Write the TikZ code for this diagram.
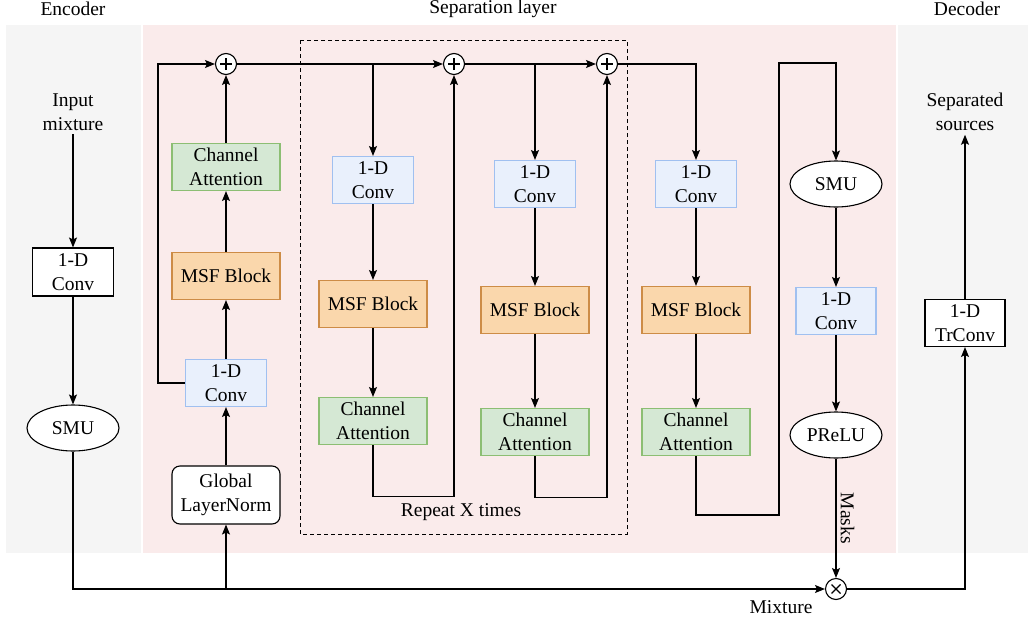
\documentclass[tikz,border=0pt]{standalone}
\usepackage{fontspec}
\setmainfont{Liberation Serif}
\usetikzlibrary{arrows.meta,shapes.geometric}

\definecolor{encgray}{RGB}{245,245,245}
\definecolor{seppink}{RGB}{250,235,235}
\definecolor{convfill}{RGB}{233,240,252}
\definecolor{convline}{RGB}{160,192,240}
\definecolor{msffill}{RGB}{250,215,172}
\definecolor{msfline}{RGB}{205,140,70}
\definecolor{cafill}{RGB}{213,232,212}
\definecolor{caline}{RGB}{140,190,115}

\tikzset{
	every node/.style={font=\rmfamily\fontsize{19.5}{24}\selectfont},
	blk/.style={draw, align=center, inner sep=0pt, minimum height=47pt},
	plainconv/.style={blk, fill=white, minimum width=81pt},
	conv/.style={blk, draw=convline, fill=convfill, minimum width=81pt},
	msf/.style={blk, draw=msfline, fill=msffill, minimum width=108pt},
	chatt/.style={blk, draw=caline, fill=cafill, minimum width=108pt},
	oval/.style={ellipse, draw, fill=white, minimum width=92pt, minimum height=46pt, inner sep=0pt},
	sumnode/.style={circle, draw, fill=white, minimum size=21pt, inner sep=0pt,
		path picture={\draw[line width=1.4pt]
			([xshift=-6pt]path picture bounding box.center) -- ([xshift=6pt]path picture bounding box.center)
			([yshift=-6pt]path picture bounding box.center) -- ([yshift=6pt]path picture bounding box.center);}},
	mulnode/.style={circle, draw, fill=white, minimum size=21pt, inner sep=0pt,
		path picture={\draw[line width=1.1pt]
			([shift={(-4.5pt,-4.5pt)}]path picture bounding box.center) -- ([shift={(4.5pt,4.5pt)}]path picture bounding box.center)
			([shift={(-4.5pt,4.5pt)}]path picture bounding box.center) -- ([shift={(4.5pt,-4.5pt)}]path picture bounding box.center);}},
}

\begin{document}
\begin{tikzpicture}[x=1pt, y=-1pt, line width=1.1pt, >={Stealth[length=10pt,width=8pt,inset=2pt]}]
	\useasboundingbox (0,0) rectangle (1028,621);
	% backgrounds
	\fill[encgray] (6,25) rectangle (141,553);
	\fill[seppink] (143,25) rectangle (896,553);
	\fill[encgray] (898,25) rectangle (1028,553);
	\draw[dashed, dash pattern=on 4pt off 3pt, line width=0.9pt] (300,40) rectangle (627,534);

	\node (enc) at (73,9) {Encoder};
	\node (sep) at (493,9) {Separation layer};
	\node (dec) at (967,9) {Decoder};

	% encoder
	\node[align=center] (inmix) at (73,112) {Input\\mixture};
	\node[plainconv, minimum height=48pt] (conv0) at (73,272) {1-D\\Conv};
	\node[oval] (smu0) at (73,428) {SMU};

	% separation layer
	\node[blk, rounded corners=8pt, fill=white, minimum width=108pt, minimum height=58pt] (gln) at (226,495) {Global\\LayerNorm};
	\node[conv] (conv1) at (226,383) {1-D\\Conv};
	\node[msf] (msf1) at (226,276) {MSF Block};
	\node[chatt] (ca1) at (226,167) {Channel\\Attention};
	\node[sumnode] (sum1) at (226,64) {};

	\node[conv] (conv2) at (373,180) {1-D\\Conv};
	\node[msf] (msf2) at (373,304) {MSF Block};
	\node[chatt] (ca2) at (373,421) {Channel\\Attention};
	\node[sumnode] (sum2) at (454,64) {};

	\node[conv] (conv3) at (535,184) {1-D\\Conv};
	\node[msf] (msf3) at (535,310) {MSF Block};
	\node[chatt] (ca3) at (535,432) {Channel\\Attention};
	\node[sumnode] (sum3) at (607,64) {};

	\node (rep) at (461,512) {Repeat X times};

	\node[conv] (conv4) at (696,184) {1-D\\Conv};
	\node[msf] (msf4) at (696,310) {MSF Block};
	\node[chatt] (ca4) at (696,432) {Channel\\Attention};

	\node[oval] (smu1) at (836,184) {SMU};
	\node[conv, minimum width=80pt] (conv5) at (836,311) {1-D\\Conv};
	\node[oval] (prelu) at (836,435) {PReLU};
	\node[mulnode] (mul) at (836,589) {};
	\node (mixlbl) at (781,607) {Mixture};

	% decoder
	\node[plainconv, minimum width=80pt] (trconv) at (965,323) {1-D\\TrConv};
	\node[align=center] (sepsrc) at (965,112) {Separated\\sources};

	\coordinate (tap) at (226,589);
	\coordinate (br2) at (373,64);
	\coordinate (br3) at (535,64);
	\coordinate (top4) at (836,63);

	% connectors
	\draw[->] (inmix) -- (conv0);
	\draw[->] (conv0) -- (smu0);
	\draw[->] (smu0) |- (mul);
	\draw[->] (tap) -- (gln);
	\draw[->] (gln) -- (conv1);
	\draw[->] (conv1) -- (msf1);
	\draw[->] (msf1) -- (ca1);
	\draw[->] (ca1) -- (sum1);
	\draw[->] (conv1.west) -- ++(-27,0) |- (sum1.west);
	\draw[->] (sum1) -- (sum2);
	\draw[->] (br2) -- (conv2);
	\draw[->] (conv2) -- (msf2);
	\draw[->] (msf2) -- (ca2);
	\draw[->] (ca2.south) -- ++(0,51) -| (sum2.south);
	\draw[->] (sum2) -- (sum3);
	\draw[->] (br3) -- (conv3);
	\draw[->] (conv3) -- (msf3);
	\draw[->] (msf3) -- (ca3);
	\draw[->] (ca3.south) -- ++(0,41) -| (sum3.south);
	\draw[->] (sum3.east) -| (conv4.north);
	\draw[->] (conv4) -- (msf4);
	\draw[->] (msf4) -- (ca4);
	\draw[->] (ca4.south) |- (779,515) |- (top4) -- (smu1);
	\draw[->] (smu1) -- (conv5);
	\draw[->] (conv5) -- (prelu);
	\draw[->] (prelu) -- node[rotate=-90, anchor=south, inner sep=4pt] {Masks} (mul);
	\draw[->] (mul.east) -| (trconv.south);
	\draw[->] (trconv) -- (sepsrc);
\end{tikzpicture}
\end{document}
